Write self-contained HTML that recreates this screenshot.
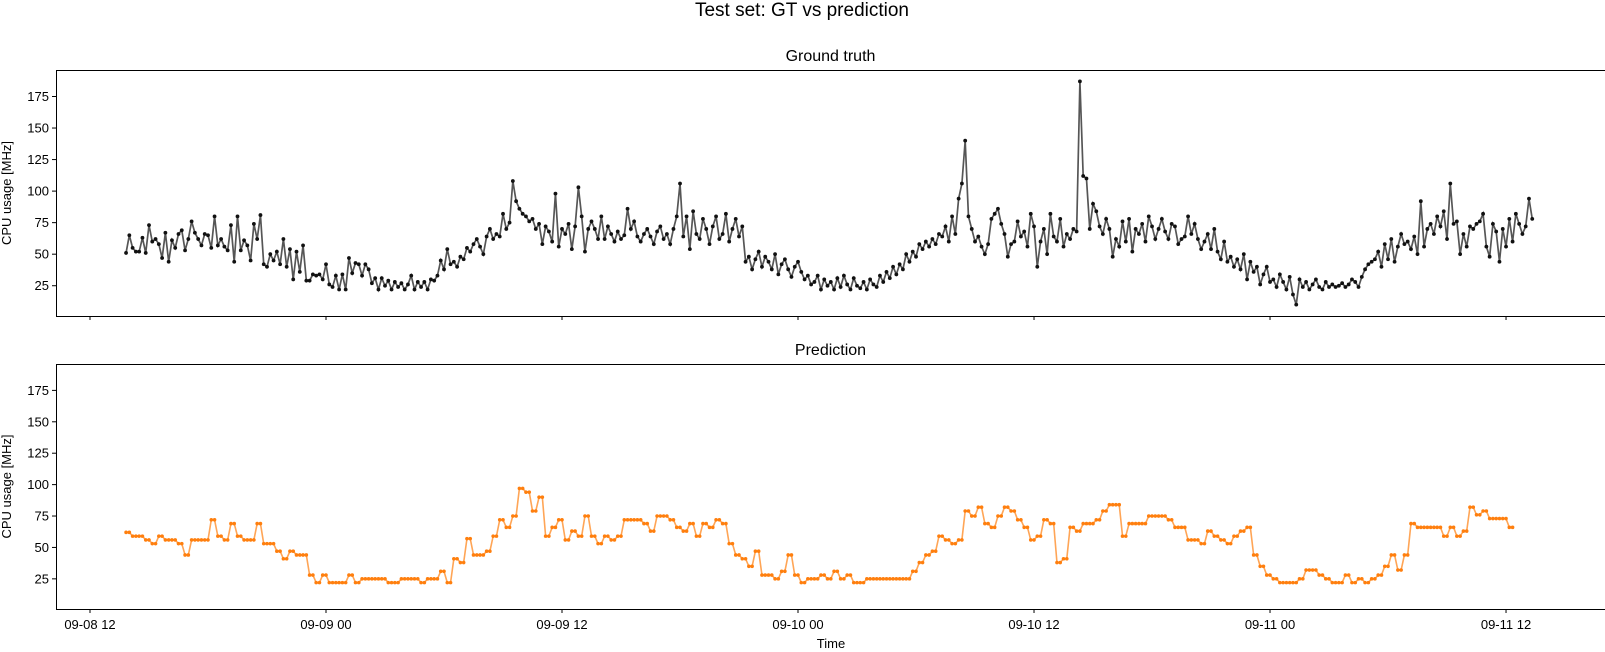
<!DOCTYPE html>
<html><head><meta charset="utf-8">
<style>
html,body{margin:0;padding:0;background:#fff;}
svg{display:block;font-family:"Liberation Sans","DejaVu Sans",sans-serif;}
</style></head>
<body>
<svg id="fig" width="1605" height="652" viewBox="0 0 1605 652">
<text x="802" y="16" text-anchor="middle" font-size="19">Test set: GT vs prediction</text>
</svg>
<script>
const startHour = 1.8333;
const stepMinutes = 10;
const gtValues = [
51,65,55,52,52,63,51,73,60,62,
58,47,67,44,61,55,66,69,53,62,
76,67,62,57,66,65,55,80,57,62,
56,53,73,44,80,53,61,57,45,74,
62,81,42,40,50,45,52,42,62,40,
54,30,52,36,57,29,29,34,33,34,
30,42,26,24,33,22,34,22,47,35,
43,42,33,42,38,27,31,22,31,25,
29,22,28,24,27,22,26,33,22,28,
24,28,22,30,29,33,45,38,54,42,
44,40,48,46,55,52,58,62,56,50,
64,70,62,66,64,82,70,75,108,92,
86,82,80,76,78,70,74,58,72,68,
60,98,56,70,66,74,54,72,103,80,
52,70,76,70,62,80,62,72,66,60,
68,62,65,86,70,76,64,60,66,70,
64,58,68,72,62,66,58,70,80,106,
64,80,54,84,66,62,78,70,58,72,
80,62,66,82,60,70,78,64,72,44,
48,38,46,52,40,48,44,38,50,34,
42,46,38,32,40,44,36,30,33,26,
28,33,22,30,25,28,22,31,24,33,
26,22,31,25,23,28,22,30,26,24,
33,28,36,31,40,34,42,38,50,44,
52,48,58,54,60,56,62,58,66,64,
72,60,80,66,94,106,140,80,70,60,
64,56,50,58,78,82,86,74,66,48,
58,60,76,64,68,56,82,72,40,60,
70,50,82,64,60,78,56,66,62,70,
68,187,112,110,70,90,84,72,66,78,
70,48,62,56,76,60,78,52,70,66,
74,60,80,72,62,70,78,68,62,74,
72,58,62,64,80,66,74,62,54,60,
66,54,70,52,46,60,44,48,40,46,
38,50,30,44,36,40,26,34,40,28,
30,24,34,28,22,32,18,10,30,24,
28,22,26,30,24,22,28,24,26,24,
25,27,24,26,30,28,24,32,38,42,
44,46,52,40,58,46,62,44,56,66,
58,60,54,64,50,92,56,70,74,66,
80,72,84,62,106,74,76,50,66,56,
72,70,74,76,82,56,48,74,68,44,
70,56,78,60,82,74,66,72,94,78];
const predBlocks = [
62,59,59,56,53,59,56,56,53,44,
56,56,56,72,59,56,69,59,56,56,
69,53,53,47,41,47,44,44,28,22,
28,22,22,22,28,22,25,25,25,25,
22,22,25,25,25,22,25,25,31,22,
41,38,57,44,44,47,59,72,66,75,
97,94,79,90,59,66,72,56,63,59,
75,59,53,59,56,59,72,72,72,69,
63,75,75,72,66,63,69,59,69,66,
72,69,53,44,41,35,47,28,28,25,
31,44,28,22,25,25,28,25,31,25,
28,22,22,25,25,25,25,25,25,25,
31,38,44,47,59,56,53,56,79,75,
82,69,66,75,82,79,72,66,56,59,
72,69,38,41,66,63,69,69,72,79,
84,84,59,69,69,69,75,75,75,72,
66,66,56,56,53,63,59,56,53,59,
63,66,44,35,28,25,22,22,22,25,
32,32,28,25,22,22,28,22,25,22,
25,28,35,44,32,44,69,66,66,66,
66,59,66,59,63,82,76,79,73,73,
73,66];
const yTicks = [25,50,75,100,125,150,175];
const xTickHours = [0,12,24,36,48,60,72];
const xTickLabels = ["09-08 12","09-09 00","09-09 12","09-10 00","09-10 12","09-11 00","09-11 12"];

const NS="http://www.w3.org/2000/svg";
const svg=document.getElementById('fig');
const AX_L=56, AX_R=1605;
const X0=90, PX_PER_HOUR=19.667;
const Y_MIN=1.0, Y_MAX=196;
function xScale(h){return X0+h*PX_PER_HOUR;}
function mk(tag,attrs,parent){const e=document.createElementNS(NS,tag);for(const k in attrs)e.setAttribute(k,attrs[k]);(parent||svg).appendChild(e);return e;}

function makeAxes(top,bottom,title,name,showXLabels){
  const g=mk('g',{});
  
  
  const yScale=v=>bottom-(v-Y_MIN)/(Y_MAX-Y_MIN)*(bottom-top);
  const t=mk('text',{x:(AX_L+AX_R)/2,y:top-9,'text-anchor':'middle','font-size':'16'},g);
  t.textContent=title;
  
  
  yTicks.forEach(v=>{
    const y=yScale(v);
    const l=mk('line',{x1:AX_L-4,x2:AX_L,y1:y,y2:y,stroke:'#000','stroke-width':1},g);
    
    
    const tx=mk('text',{x:AX_L-7,y:y+4.5,'text-anchor':'end','font-size':'13'},g);
    tx.textContent=v;
    
    
  });
  xTickHours.forEach((h,i)=>{
    const x=xScale(h);
    const l=mk('line',{x1:x,x2:x,y1:bottom,y2:bottom+4,stroke:'#000','stroke-width':1},g);
    
    
    if(showXLabels){
      const tx=mk('text',{x:x,y:bottom+20,'text-anchor':'middle','font-size':'13'},g);
      tx.textContent=xTickLabels[i];
      
      
    }
  });
  const yl=mk('text',{x:0,y:0,'text-anchor':'middle','font-size':'13',transform:`translate(11,${(top+bottom)/2}) rotate(-90)`},g);
  yl.textContent='CPU usage [MHz]';
  
  
  const fr=mk('rect',{x:AX_L+0.5,y:top+0.5,width:AX_R-AX_L+5,height:bottom-top,fill:'none',stroke:'#000','stroke-width':1},g);
  
  
  return {g,yScale};
}

const A1=makeAxes(70,316,'Ground truth','ground-truth-panel',false);
const A2=makeAxes(364,609,'Prediction','prediction-panel',true);

function sampleHour(i){return startHour+i*stepMinutes/60;}

let d='';
gtValues.forEach((v,i)=>{d+=(i?'L':'M')+xScale(sampleHour(i)).toFixed(2)+','+A1.yScale(v).toFixed(2);});
const gl=mk('path',{d:d,fill:'none',stroke:'#444','stroke-width':1.7,'stroke-opacity':0.9},A1.g);


gtValues.forEach((v,i)=>{
  const c=mk('circle',{cx:xScale(sampleHour(i)),cy:A1.yScale(v),r:1.9,fill:'#111'},A1.g);
  
  
});

const predSamples=[];
predBlocks.forEach(v=>{predSamples.push(v);predSamples.push(v);});
let d2='';
predSamples.forEach((v,i)=>{d2+=(i?'L':'M')+xScale(sampleHour(i)).toFixed(2)+','+A2.yScale(v).toFixed(2);});
const pl=mk('path',{d:d2,fill:'none',stroke:'#ff7f0e','stroke-width':1.6,'stroke-opacity':0.7},A2.g);


predSamples.forEach((v,i)=>{
  const c=mk('circle',{cx:xScale(sampleHour(i)),cy:A2.yScale(v),r:1.8,fill:'#ff7f0e'},A2.g);
  
  
});

const xt=mk('text',{x:831,y:648,'text-anchor':'middle','font-size':'13'});
xt.textContent='Time';


</script>
</body></html>
